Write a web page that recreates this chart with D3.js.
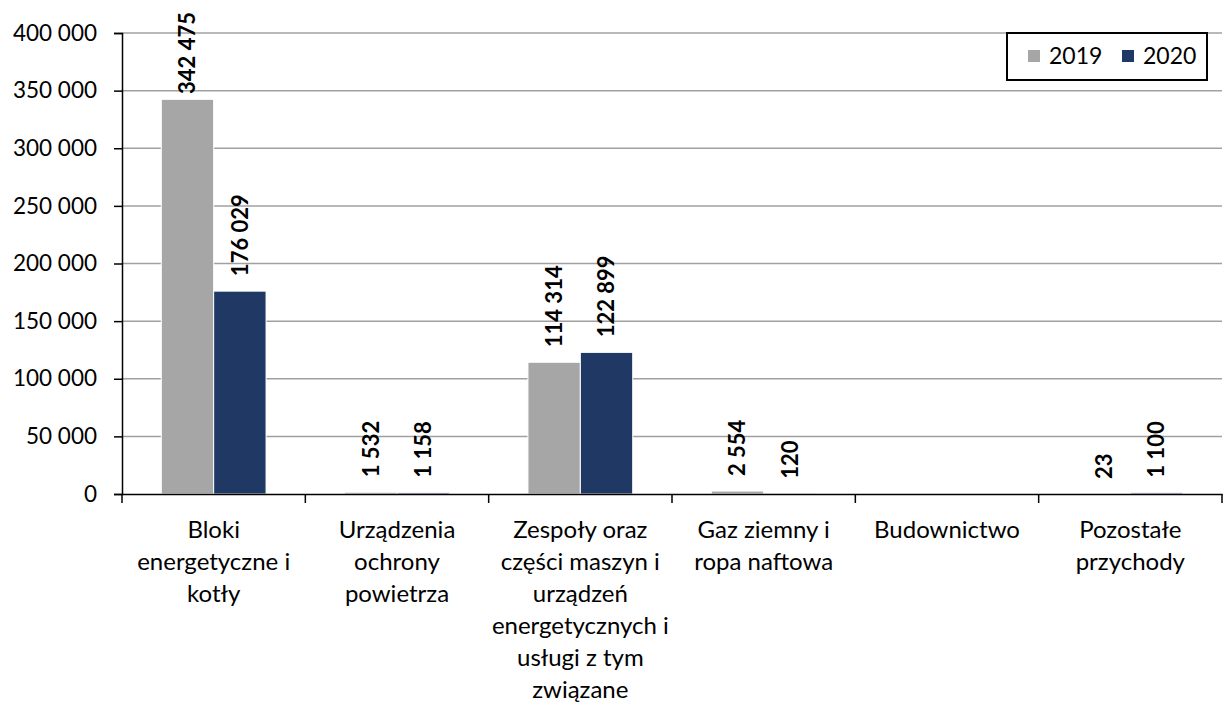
<!DOCTYPE html>
<html>
<head>
<meta charset="utf-8">
<script src="https://cdn.jsdelivr.net/npm/d3@7"></script>
<style>
  body { margin: 0; background: #fff; }
  svg { display: block; font-family: Lato, 'Open Sans', sans-serif; }
</style>
</head>
<body>
<svg id="chart" width="1225" height="707"></svg>
<script>
// data
const categories = [
  'Bloki\nenergetyczne i\nkotły',
  'Urządzenia\nochrony\npowietrza',
  'Zespoły oraz\nczęści maszyn i\nurządzeń\nenergetycznych i\nusługi z tym\nzwiązane',
  'Gaz ziemny i\nropa naftowa',
  'Budownictwo',
  'Pozostałe\nprzychody'
];
const years = ['2019', '2020'];
const values2019 = [342475, 1532, 114314, 2554, null, 23];
const values2020 = [176029, 1158, 122899, 120, null, 1100];
const yTicks = [0, 50000, 100000, 150000, 200000, 250000, 300000, 350000, 400000];
const colors = { '2019': '#a6a6a6', '2020': '#203864' };

const svg = d3.select('#chart');
const margin = { top: 33, right: 3, bottom: 213, left: 122 };
const width = 1225;
const height = 707;

const fmt = (v) => d3.format(',')(v).replace(/,/g, ' ');

// scales
const x0 = d3.scaleBand()
  .domain(categories)
  .range([margin.left, width - margin.right]);
const bw = x0.bandwidth();
const x1 = d3.scaleBand()
  .domain(years)
  .range([bw * 1.5 / 7, bw * 5.5 / 7]);
const y = d3.scaleLinear()
  .domain([0, 400000])
  .range([height - margin.bottom, margin.top]);

// gridlines
svg.append('g')
  .selectAll('line')
  .data(yTicks.slice(1))
  .enter()
  .append('line')
  .attr('x1', margin.left)
  .attr('x2', width - margin.right)
  .attr('y1', (d) => y(d))
  .attr('y2', (d) => y(d))
  .attr('stroke', '#a0a0a0')
  .attr('stroke-width', 1.5);

// bars
const rows = categories.map((c, i) => ({ cat: c, '2019': values2019[i], '2020': values2020[i] }));
const groups = svg.append('g')
  .selectAll('g')
  .data(rows)
  .enter()
  .append('g')
  .attr('transform', (d) => `translate(${x0(d.cat)},0)`);

const bars = groups.selectAll('g')
  .data((d) => years.map((yr) => ({ yr, v: d[yr] })).filter((e) => e.v !== null))
  .enter()
  .append('g');

bars.append('rect')
  .attr('x', (d) => x1(d.yr))
  .attr('y', (d) => y(d.v))
  .attr('width', x1.bandwidth())
  .attr('height', (d) => y(0) - y(d.v))
  .attr('fill', (d) => colors[d.yr])
  .attr('stroke', '#fff')
  .attr('stroke-width', 1);

// value labels, rotated, pushed down if they would leave the chart
bars.append('text')
  .attr('font-size', 22)
  .attr('font-weight', 'bold')
  .attr('fill', '#000')
  .attr('dy', '0.36em')
  .text((d) => fmt(d.v))
  .each(function (d) {
    const len = this.getComputedTextLength();
    let start = y(d.v) - 15;
    if (start - len < 12) start = 12 + len;
    d3.select(this)
      .attr('transform', `translate(${x1(d.yr) + x1.bandwidth() / 2},${start}) rotate(-90)`);
  });

// y axis
const yAxis = d3.axisLeft(y)
  .tickValues(yTicks)
  .tickFormat(fmt)
  .tickSize(8)
  .tickPadding(17);
const gy = svg.append('g')
  .attr('transform', `translate(${margin.left},0)`)
  .call(yAxis);
gy.selectAll('text').attr('font-size', 22.5).attr('fill', '#000').style('font-family', 'Lato');
gy.selectAll('line').attr('stroke', '#000').attr('stroke-width', 1.5);
gy.select('.domain').attr('stroke', '#000').attr('stroke-width', 1.5);

// x axis
const xAxis = d3.axisBottom(x0).tickSize(0).tickFormat('');
const gx = svg.append('g')
  .attr('transform', `translate(0,${y(0)})`)
  .call(xAxis);
gx.select('.domain').attr('stroke', '#000').attr('stroke-width', 1.5);

// category boundary ticks
svg.append('g')
  .selectAll('line')
  .data(categories.map((c) => x0(c)).concat([x0(categories[categories.length - 1]) + bw]))
  .enter()
  .append('line')
  .attr('x1', (d) => d)
  .attr('x2', (d) => d)
  .attr('y1', y(0))
  .attr('y2', y(0) + 9)
  .attr('stroke', '#000')
  .attr('stroke-width', 1.5);

// category labels
svg.append('g')
  .selectAll('text')
  .data(categories)
  .enter()
  .append('text')
  .attr('x', (d) => x0(d) + bw / 2)
  .attr('y', y(0) + 44)
  .attr('text-anchor', 'middle')
  .attr('font-size', 24)
  .attr('fill', '#000')
  .each(function (d) {
    const t = d3.select(this);
    d.split('\n').forEach((line, i) => {
      t.append('tspan')
        .attr('x', x0(d) + bw / 2)
        .attr('dy', i === 0 ? 0 : 32)
        .text(line);
    });
  });

// legend
const legend = svg.append('g').attr('transform', 'translate(1007,33)');
legend.append('rect')
  .attr('width', 200)
  .attr('height', 47)
  .attr('fill', '#fff')
  .attr('stroke', '#000')
  .attr('stroke-width', 2);
const legendX = { '2019': 21, '2020': 115 };
years.forEach((yr) => {
  legend.append('rect')
    .attr('x', legendX[yr])
    .attr('y', 17)
    .attr('width', 12)
    .attr('height', 12)
    .attr('fill', colors[yr]);
  legend.append('text')
    .attr('x', legendX[yr] + 21)
    .attr('y', 31)
    .attr('font-size', 23)
    .attr('fill', '#000')
    .text(yr);
});
</script>
</body>
</html>
